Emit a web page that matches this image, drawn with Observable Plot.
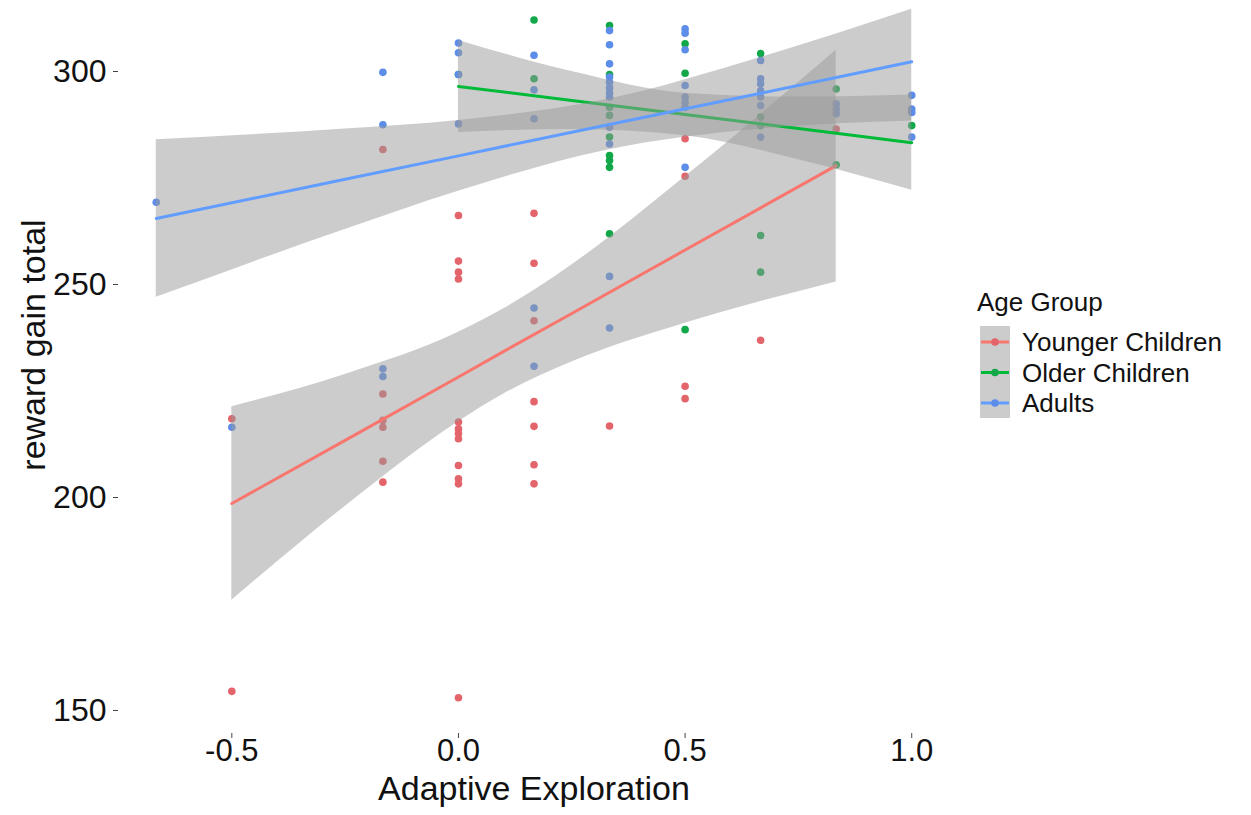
<!DOCTYPE html>
<html><head><meta charset="utf-8">
<script src="https://cdn.jsdelivr.net/npm/d3@7"></script>
<script src="https://cdn.jsdelivr.net/npm/@observablehq/plot@0.6"></script>
<style>
html,body{margin:0;padding:0;background:#fff;}
#wrap{position:relative;width:1251px;height:815px;}
#legend{position:absolute;left:0;top:0;}
svg{display:block}
</style></head><body><div id="wrap"></div>
<script>
const groups = ["Younger Children", "Older Children", "Adults"];
const colors = ["#F8766D", "#00BA38", "#619CFF"];
const dotColors = ["#E3646B", "#12A84A", "#5C8DE8"];
const xTicks = [-0.5, 0, 0.5, 1.0];
const yTicks = [150, 200, 250, 300];

// Points
const youngerX = [-0.5,-0.5,
  -0.1667,-0.1667,-0.1667,-0.1667,-0.1667,-0.1667,
  0,0,0,0,0,0,0,0,0,0,0,0,
  0.1667,0.1667,0.1667,0.1667,0.1667,0.1667,0.1667,
  0.3333,
  0.5,0.5,0.5,0.5,
  0.6667,
  0.8333];
const youngerY = [218.5,154.5,
  281.7,224.3,218.1,216.5,208.5,203.6,
  266.2,255.5,252.9,251.3,217.7,216.1,215.0,213.8,207.5,204.4,203.2,153.0,
  266.7,255.0,241.5,222.5,216.7,207.7,203.2,
  216.8,
  284.2,275.4,226.1,223.2,
  236.9,
  286.5];

const olderX = [0,
  0.1667,0.1667,
  0.3333,0.3333,0.3333,0.3333,0.3333,0.3333,0.3333,0.3333,0.3333,
  0.5,0.5,0.5,
  0.6667,0.6667,0.6667,0.6667,0.6667,
  0.8333,0.8333,
  1.0];
const olderY = [299.3,
  312.1,298.3,
  310.8,299.3,291.6,289.7,284.6,280.3,279.1,277.5,261.9,
  306.5,299.6,239.4,
  304.2,289.3,287.3,261.5,252.9,
  295.9,278.1,
  287.3];

const adultsX = [-0.6667,
  -0.5,
  -0.1667,-0.1667,-0.1667,-0.1667,
  0,0,0,0,
  0.1667,0.1667,0.1667,0.1667,0.1667,
  0.3333,0.3333,0.3333,0.3333,0.3333,0.3333,0.3333,0.3333,0.3333,0.3333,0.3333,0.3333,
  0.5,0.5,0.5,0.5,0.5,0.5,0.5,0.5,
  0.6667,0.6667,0.6667,0.6667,0.6667,0.6667,0.6667,
  0.8333,0.8333,0.8333,
  1.0,1.0,1.0,1.0];
const adultsY = [269.3,
  216.5,
  299.8,287.5,230.2,228.4,
  306.7,304.4,299.3,287.7,
  303.8,295.7,288.9,244.5,230.8,
  309.6,306.3,301.8,298.7,297.5,296.2,295.0,294.0,286.9,283.0,251.9,239.8,
  310.0,309.0,305.1,296.7,294.0,292.8,291.6,277.5,
  302.6,298.3,297.1,295.5,294.0,292.0,284.6,
  292.4,291.2,290.1,
  294.4,291.2,290.4,284.6];

// Fitted lines and 95% bands
const youngerFitX = [-0.5, -0.25, 0, 0.1, 0.25, 0.5, 0.8333];
const youngerFit  = [198.6, 213.4, 228.3, 234.3, 243.2, 258.1, 277.9];
const youngerLo   = [175.9, 197.9, 217.8, 224.3, 231.8, 240.9, 250.6];
const youngerHi   = [221.3, 228.9, 238.8, 244.3, 254.6, 275.3, 305.0];

const olderFitX = [0, 0.25, 0.5, 0.75, 1.0];
const olderFit  = [296.5, 293.2, 289.9, 286.6, 283.3];
const olderLo   = [285.7, 286.4, 284.9, 279.3, 272.1];
const olderHi   = [307.3, 300.0, 294.9, 294.0, 294.5];

const adultsFitX = [-0.6667, -0.25, 0, 0.33, 0.6667, 1.0];
const adultsFit  = [265.5, 274.7, 280.2, 287.5, 294.9, 302.3];
const adultsLo   = [247.0, 262.9, 271.9, 281.6, 286.5, 288.4];
const adultsHi   = [284.0, 286.5, 288.5, 293.5, 303.3, 314.6];

const pointSets = [[youngerX, youngerY], [olderX, olderY], [adultsX, adultsY]];
const bandSets = [
  [youngerFitX, youngerFit, youngerLo, youngerHi],
  [olderFitX, olderFit, olderLo, olderHi],
  [adultsFitX, adultsFit, adultsLo, adultsHi]
];

const points = [];
pointSets.forEach(([xs, ys], gi) => xs.forEach((x, i) => points.push({group: groups[gi], x, y: ys[i], c: dotColors[gi]})));
const bands = bandSets.map(([xs, fit, lo, hi], gi) => xs.map((x, i) => ({group: groups[gi], x, fit: fit[i], lo: lo[i], hi: hi[i]})));

const font = "'Liberation Sans', Arial, Helvetica, sans-serif";

const chart = Plot.plot({
  width: 1251,
  height: 815,
  marginLeft: 118,
  marginRight: 302,
  marginTop: 0,
  marginBottom: 82,
  style: {fontFamily: font, background: "white", color: "#111"},
  x: {domain: [-0.75, 1.0833]},
  y: {domain: [144.6, 316.67]},
  color: {domain: groups, range: colors},
  marks: [
    Plot.axisX({ticks: xTicks, tickFormat: d => d.toFixed(1), tickSize: 5, tickPadding: 0, fontSize: 31, stroke: "#444", fill: "#111", label: null}),
    Plot.axisY({ticks: yTicks, tickSize: 5, tickPadding: 7, fontSize: 32, stroke: "#444", fill: "#111", label: null}),
    Plot.dot(points, {x: "x", y: "y", fill: d => d.c, r: 3.8}),
    ...bands.map(b => [
      Plot.areaY(b, {x: "x", y1: "lo", y2: "hi", fill: "#999999", fillOpacity: 0.5, curve: "monotone-x"}),
      Plot.line(b, {x: "x", y: "fit", stroke: "group", strokeWidth: 3})
    ]),
    Plot.text(["Adaptive Exploration"], {frameAnchor: "bottom", dy: 66, fontSize: 34, fill: "#111", textAnchor: "middle"}),
    Plot.text(["reward gain total"], {frameAnchor: "left", dx: -84, dy: -22, rotate: -90, fontSize: 34, fill: "#111", textAnchor: "middle"})
  ]
});
const wrap = document.getElementById("wrap");
wrap.appendChild(chart);

// Legend
const lg = d3.select(wrap).append("svg").attr("id", "legend")
  .attr("width", 1251).attr("height", 815)
  .style("pointer-events", "none")
  .style("font-family", font);
lg.append("text").attr("x", 977).attr("y", 311).attr("font-size", 26).attr("fill", "#111").text("Age Group");
lg.append("rect").attr("x", 980).attr("y", 326).attr("width", 30).attr("height", 92).attr("fill", "#999999").attr("fill-opacity", 0.5);
groups.forEach((g, i) => {
  const cy = 342 + i * 30.5;
  lg.append("line").attr("x1", 981).attr("x2", 1009).attr("y1", cy).attr("y2", cy).attr("stroke", colors[i]).attr("stroke-width", 3);
  lg.append("circle").attr("cx", 995).attr("cy", cy).attr("r", 3.8).attr("fill", dotColors[i]);
  lg.append("text").attr("x", 1022).attr("y", cy).attr("dy", "0.35em").attr("font-size", 26).attr("fill", "#111").text(g);
});
</script></body></html>
